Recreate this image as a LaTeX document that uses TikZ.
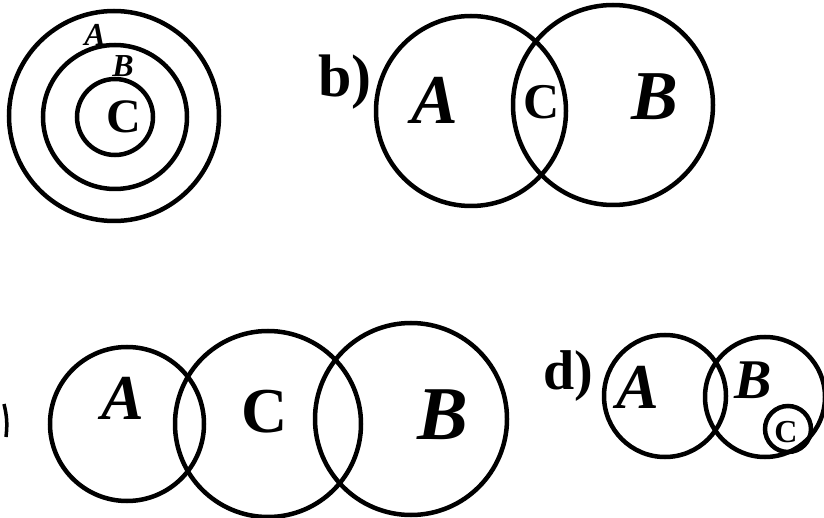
\documentclass[tikz,border=0pt]{standalone}
\usepackage{fontspec}
\setmainfont{Liberation Serif}
\begin{document}
\begin{tikzpicture}[x=1pt,y=-1pt,
  ring/.style={circle,draw=black,line width=4.5pt,inner sep=0pt,minimum size=#1},
  lbl/.style={inner sep=0pt,font=\fontsize{#1}{#1}\selectfont\bfseries\itshape}]
\useasboundingbox[fill=white] (0,0) rectangle (824,518);
% panel a
\node[ring=210pt] (aO) at (114,116) {};
\node[ring=144pt] (aM) at (115,117) {};
\node[ring=76pt] (aI) at (115,117) {};
\node[lbl=32pt] (aA) at (95,35) {A};
\node[lbl=32pt] (aB) at (123,66) {B};
\node[lbl=48pt] (aC) at (124,117) {\upshape C};
% panel b
\node[lbl=60pt] (bL) at (345,82) {\upshape b)};
\node[ring=190pt] (bA) at (471,111) {};
\node[ring=200pt] (bB) at (613,105) {};
\node[lbl=70pt] (bAl) at (435,100) {A};
\node[lbl=50pt] (bCl) at (542,102) {\upshape C};
\node[lbl=70pt] (bBl) at (655,97) {B};
% panel c
\draw[line width=3.5pt] (4,404) to[bend left=10] (6,437);
\node[ring=154pt] (cA) at (127,424) {};
\node[ring=186pt] (cC) at (268,424) {};
\node[ring=192pt] (cB) at (411,419) {};
\node[lbl=64pt] (cAl) at (123,398) {A};
\node[lbl=64pt] (cCl) at (265,412) {\upshape C};
\node[lbl=76pt] (cBl) at (443,415) {B};
% panel d
\node[lbl=56pt] (dL) at (568,376) {\upshape d)};
\node[ring=122pt] (dA) at (665,396) {};
\node[ring=120pt] (dB) at (765,397) {};
\node[ring=46pt] (dC) at (788,429) {};
\node[lbl=64pt] (dAl) at (638,387) {A};
\node[lbl=56pt] (dBl) at (753,380) {B};
\node[lbl=32pt] (dCl) at (786,432) {\upshape C};
\end{tikzpicture}
\end{document}
